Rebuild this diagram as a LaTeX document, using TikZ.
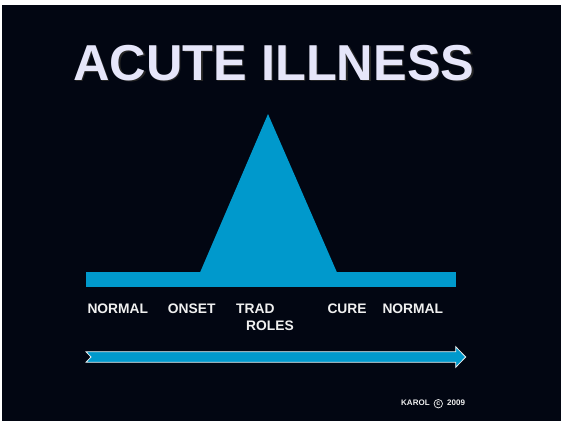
\documentclass[tikz,border=0pt]{standalone}
\usepackage{fontspec}
\setmainfont{Liberation Sans}
\definecolor{bgdark}{RGB}{2,6,18}
\definecolor{bandblue}{RGB}{0,153,204}
\definecolor{titlecol}{RGB}{230,230,250}
\definecolor{labelcol}{RGB}{240,240,240}
\begin{document}
\begin{tikzpicture}[x=1pt,y=-1pt,
  lbl/.style={anchor=base west,inner sep=0pt,text=labelcol,font=\bfseries\fontsize{13.8}{15}\selectfont},
  foot/.style={anchor=base west,inner sep=0pt,text=labelcol,font=\bfseries\fontsize{8}{9}\selectfont},
  bandfill/.style={fill=bandblue,draw=none}]
\useasboundingbox (0,0) rectangle (563,421);
\fill[white] (0,0) rectangle (563,421);
\fill[bgdark] (2,5) rectangle (561,421);
% title with slight shadow
\node[anchor=base west,inner sep=0pt,text=black!70!gray,font=\bfseries\fontsize{50.5}{55}\selectfont] (titleshadow) at (74.5,81.5) {ACUTE ILLNESS};
\node[anchor=base west,inner sep=0pt,text=titlecol,font=\bfseries\fontsize{50.5}{55}\selectfont] (title) at (73,80) {ACUTE ILLNESS};
% band and peak
\fill[bandfill] (86,272) rectangle (456,287);
\fill[bandfill] (200,272.5) -- (268,114) -- (337,272.5) -- cycle;
% labels
\node[lbl] (n1) at (87.3,313.3) {NORMAL};
\node[lbl] (onset) at (167.7,313.3) {ONSET};
\node[lbl] (trad) at (236,313.3) {TRAD};
\node[lbl] (roles) at (246,330) {ROLES};
\node[lbl] (cure) at (327.3,313.3) {CURE};
\node[lbl] (n2) at (382.3,313.3) {NORMAL};
% timeline arrow
\filldraw[fill=bandblue,draw=white!85!gray,line width=0.8pt,line join=miter]
  (86,351.7) -- (455.7,351.7) -- (455.7,346.7) -- (465.7,357) -- (455.7,367.3)
  -- (455.7,362.3) -- (86,362.3) -- (91,357) -- cycle;
% footer
\node[foot] (karol) at (401,405.7) {KAROL};
\node[circle,draw=labelcol,line width=0.7pt,minimum size=8.5pt,inner sep=0pt,text=labelcol,font=\bfseries\fontsize{7}{8}\selectfont] (copy) at (438.3,403.7) {c};
\node[foot] (year) at (447,405.7) {2009};
\end{tikzpicture}
\end{document}
